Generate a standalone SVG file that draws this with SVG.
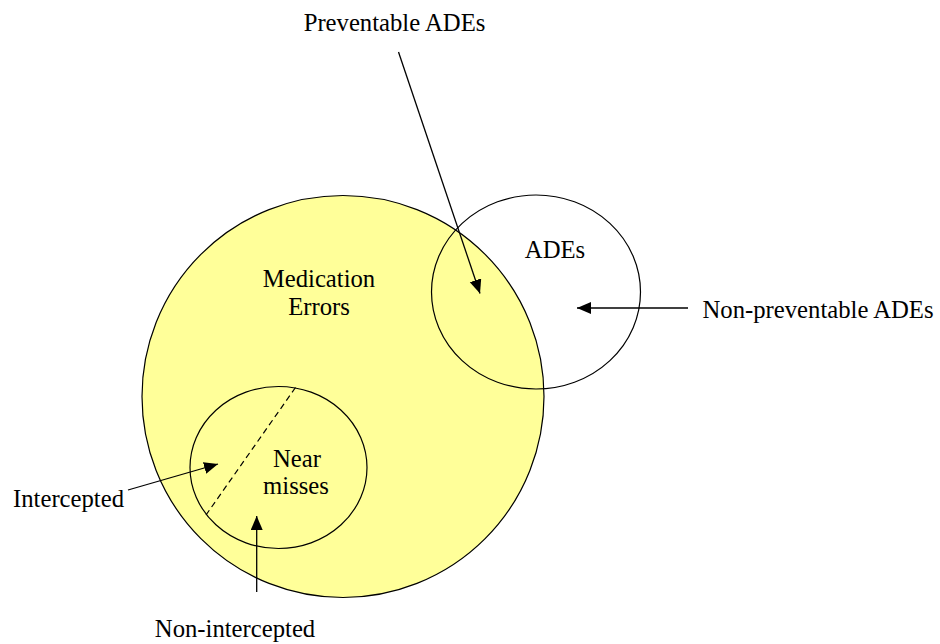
<svg xmlns="http://www.w3.org/2000/svg" width="940" height="644" viewBox="0 0 940 644">
<style>
.shape{stroke:#000;stroke-width:1.2}
.conn{stroke:#000;stroke-width:1.3;fill:none}
text{font-family:"Liberation Serif","Times New Roman",serif;font-size:24.7px;fill:#000}
</style>
<defs>
<marker id="ah" markerUnits="userSpaceOnUse" markerWidth="15" markerHeight="13" refX="14" refY="6" orient="auto">
<path d="M0,0 L14,6 L0,12 z" fill="#000"/>
</marker>
</defs>
<rect width="940" height="644" fill="#fff"/>
<g id="medication-errors">
<circle class="shape" cx="343" cy="396.5" r="201" fill="#FFFF99"/>
<text x="319" y="287" text-anchor="middle">Medication</text>
<text x="319" y="315" text-anchor="middle">Errors</text>
</g>
<g id="ades">
<ellipse class="shape" cx="536" cy="292" rx="104.5" ry="97" fill="none"/>
<text x="555" y="258" text-anchor="middle">ADEs</text>
</g>
<g id="near-misses">
<ellipse class="shape" cx="278.5" cy="467.5" rx="88.5" ry="81" fill="none"/>
<line x1="295.5" y1="387.5" x2="206" y2="515" stroke="#000" stroke-width="1.2" stroke-dasharray="6,4"/>
<text x="297" y="467" text-anchor="middle">Near</text>
<text x="296" y="494" text-anchor="middle">misses</text>
</g>
<g id="label-preventable">
<text x="394.5" y="31" text-anchor="middle">Preventable ADEs</text>
</g>
<g id="label-nonpreventable">
<text x="702.5" y="318">Non-preventable ADEs</text>
</g>
<g id="label-intercepted">
<text x="13" y="506.5">Intercepted</text>
</g>
<g id="label-nonintercepted">
<text x="235" y="636.5" text-anchor="middle">Non-intercepted</text>
</g>
<g id="connectors">
<line class="conn" x1="398.5" y1="52" x2="480" y2="293.5" marker-end="url(#ah)"/>
<line class="conn" x1="688" y1="308" x2="577" y2="308" marker-end="url(#ah)"/>
<line class="conn" x1="128" y1="490" x2="218" y2="464" marker-end="url(#ah)"/>
<line class="conn" x1="256.7" y1="592" x2="256.7" y2="516" marker-end="url(#ah)"/>
</g>
</svg>
